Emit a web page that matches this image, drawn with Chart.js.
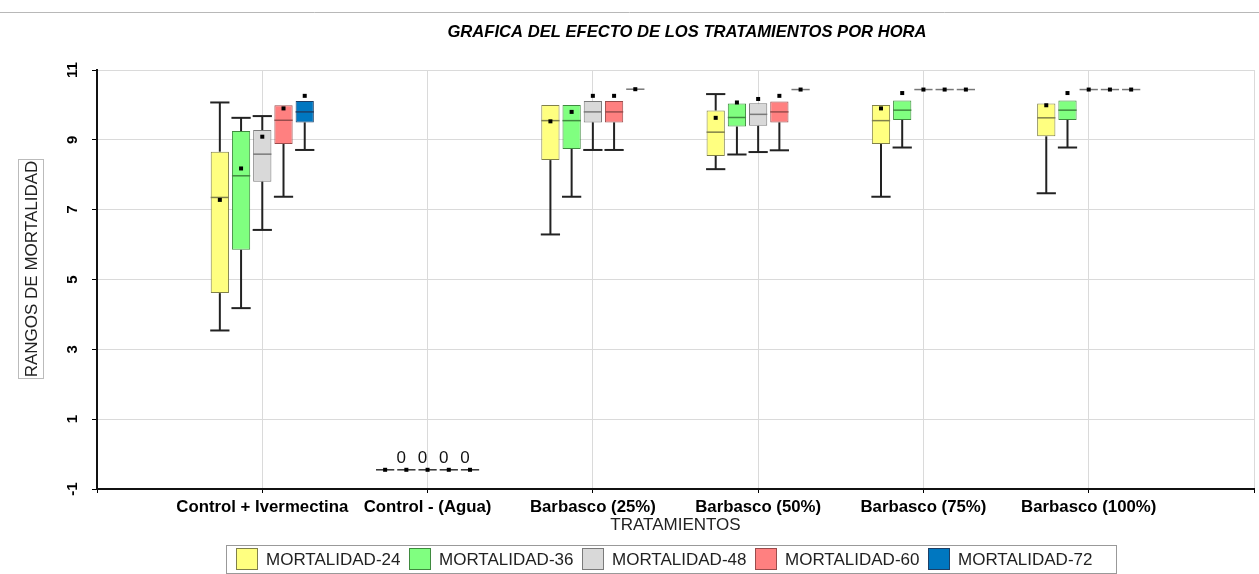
<!DOCTYPE html>
<html>
<head>
<meta charset="utf-8">
<script src="https://cdn.jsdelivr.net/npm/chart.js@4.4.0/dist/chart.umd.min.js"></script>
<style>
  html, body { margin: 0; padding: 0; background: #fff; }
</style>
</head>
<body>
<canvas id="boxChart" width="1259" height="574"></canvas>
<script>
const categories = ['Control + Ivermectina', 'Control - (Agua)', 'Barbasco (25%)', 'Barbasco (50%)', 'Barbasco (75%)', 'Barbasco (100%)'];
const seriesNames = ['MORTALIDAD-24', 'MORTALIDAD-36', 'MORTALIDAD-48', 'MORTALIDAD-60', 'MORTALIDAD-72'];
const seriesColors = ['#ffff80', '#80ff80', '#d9d9d9', '#ff8080', '#0077c0'];
const seriesBorders = ['#80804a', '#3f8a3f', '#7a7a7a', '#9a4c4c', '#1d3f66'];
const yTicks = [-1, 1, 3, 5, 7, 9, 11];

// [min, q1, median, q3, max] per treatment
const mort24 = [[3.54, 4.61, 7.35, 8.66, 10.07], [-0.45, -0.45, -0.45, -0.45, -0.45], [6.29, 8.42, 9.55, 10.0, 10.0], [8.16, 8.54, 9.22, 9.84, 10.31], [7.37, 8.88, 9.55, 10.0, 10.0], [7.47, 9.10, 9.63, 10.04, 10.04]];
const mort36 = [[4.18, 5.85, 7.97, 9.25, 9.63], [-0.45, -0.45, -0.45, -0.45, -0.45], [7.37, 8.74, 9.55, 10.0, 10.0], [8.58, 9.38, 9.64, 10.04, 10.04], [8.78, 9.57, 9.85, 10.13, 10.13], [8.78, 9.57, 9.85, 10.13, 10.13]];
const mort48 = [[6.42, 7.80, 8.59, 9.28, 9.68], [-0.45, -0.45, -0.45, -0.45, -0.45], [8.71, 9.50, 9.80, 10.11, 10.11], [8.65, 9.40, 9.73, 10.05, 10.05], [10.44, 10.44, 10.44, 10.44, 10.44], [10.44, 10.44, 10.44, 10.44, 10.44]];
const mort60 = [[7.37, 8.88, 9.56, 9.99, 9.99], [-0.45, -0.45, -0.45, -0.45, -0.45], [8.71, 9.50, 9.80, 10.11, 10.11], [8.70, 9.50, 9.80, 10.10, 10.10], [10.44, 10.44, 10.44, 10.44, 10.44], [10.44, 10.44, 10.44, 10.44, 10.44]];
const mort72 = [[8.71, 9.50, 9.80, 10.11, 10.11], [-0.45, -0.45, -0.45, -0.45, -0.45], [10.45, 10.45, 10.45, 10.45, 10.45], [10.44, 10.44, 10.44, 10.44, 10.44], [10.44, 10.44, 10.44, 10.44, 10.44], [10.44, 10.44, 10.44, 10.44, 10.44]];

const mean24 = [7.28, -0.45, 9.53, 9.63, 9.90, 9.99];
const mean36 = [8.18, -0.45, 9.80, 10.07, 10.34, 10.34];
const mean48 = [9.09, -0.45, 10.26, 10.17, 10.44, 10.44];
const mean60 = [9.90, -0.45, 10.26, 10.26, 10.44, 10.44];
const mean72 = [10.26, -0.45, 10.45, 10.44, 10.44, 10.44];

// labels printed over the water control
const aguaLabels = ['', '0', '0', '0', '0'];

const allStats = [mort24, mort36, mort48, mort60, mort72];
const allMeans = [mean24, mean36, mean48, mean60, mean72];
const FONT = '"Liberation Sans", Arial, sans-serif';

// empty slot on each side so the groups sit like the original
const pad = arr => [null, ...arr, null];

const datasets = seriesNames.map((name, i) => ({
    label: name,
    data: pad(allStats[i].map(s => [s[1], s[3]])),
    backgroundColor: seriesColors[i],
    borderColor: seriesBorders[i],
    borderWidth: 1,
    borderSkipped: false,
    categoryPercentage: 0.642,
    barPercentage: 0.86
}));

function seg(c, x1, y1, x2, y2) {
    c.beginPath();
    c.moveTo(x1, y1);
    c.lineTo(x2, y2);
    c.stroke();
}

// whiskers, medians, means
const boxExtras = {
    id: 'boxExtras',
    afterDatasetsDraw(chart) {
        const c = chart.ctx;
        const y = chart.scales.y;
        chart.data.datasets.forEach((ds, i) => {
            const meta = chart.getDatasetMeta(i);
            meta.data.forEach((bar, j) => {
                const s = allStats[i][j - 1];
                if (!s) return;
                const x = bar.x, half = bar.width / 2;
                const [mn, q1, md, q3, mx] = s.map(v => y.getPixelForValue(v));
                c.save();
                if (s[1] === s[3]) {
                    c.strokeStyle = j - 1 === 1 ? '#333' : '#777';
                    c.lineWidth = 1.5;
                    seg(c, x - half, md, x + half, md);
                } else {
                    c.strokeStyle = '#222';
                    c.lineWidth = 2;
                    if (mx < q3 - 0.5) { seg(c, x, q3, x, mx); seg(c, x - half - 0.5, mx, x + half + 0.5, mx); }
                    if (mn > q1 + 0.5) { seg(c, x, q1, x, mn); seg(c, x - half - 0.5, mn, x + half + 0.5, mn); }
                    c.strokeStyle = seriesBorders[i];
                    c.lineWidth = 1.5;
                    seg(c, x - half, md, x + half, md);
                }
                const my = y.getPixelForValue(allMeans[i][j - 1]);
                c.fillStyle = '#000';
                c.fillRect(x - 2, my - 2, 4, 4);
                if (j - 1 === 1 && aguaLabels[i]) {
                    c.font = '17px ' + FONT;
                    c.fillStyle = '#111';
                    c.textAlign = 'center';
                    c.textBaseline = 'bottom';
                    c.fillText(aguaLabels[i], x - 5, md - 3);
                }
                c.restore();
            });
        });
    }
};

// title, rotated y labels, y title box, legend
const chrome = {
    id: 'chrome',
    afterDraw(chart) {
        const c = chart.ctx;
        const y = chart.scales.y;
        c.save();
        c.strokeStyle = '#b8b8b8';
        c.lineWidth = 1;
        seg(c, 0, 12.5, chart.width, 12.5);

        c.fillStyle = '#000';
        c.font = 'italic bold 16.6px ' + FONT;
        c.textAlign = 'center';
        c.textBaseline = 'middle';
        c.fillText('GRAFICA DEL EFECTO DE LOS TRATAMIENTOS POR HORA', 687, 32);

        c.font = 'bold 15px ' + FONT;
        y.ticks.forEach(t => {
            const py = y.getPixelForValue(t.value);
            c.save();
            c.translate(73, py);
            c.rotate(-Math.PI / 2);
            c.fillText(String(t.value), 0, 0);
            c.restore();
        });

        c.save();
        c.translate(31, 269);
        c.rotate(-Math.PI / 2);
        c.font = '17px ' + FONT;
        c.fillStyle = '#222';
        c.fillText('RANGOS DE MORTALIDAD', 0, 1);
        c.setLineDash([1, 1]);
        c.strokeStyle = '#777';
        c.strokeRect(-109.5, -12.5, 219, 25);
        c.restore();

        // legend
        c.setLineDash([]);
        c.strokeStyle = '#999';
        c.strokeRect(226.5, 545.5, 890, 28);
        c.font = '17px ' + FONT;
        c.textAlign = 'left';
        seriesNames.forEach((name, i) => {
            const bx = 236 + i * 173;
            c.fillStyle = seriesColors[i];
            c.fillRect(bx, 548, 22, 22);
            c.strokeStyle = seriesBorders[i];
            c.strokeRect(bx + 0.5, 548.5, 21, 21);
            c.fillStyle = '#222';
            c.fillText(name, bx + 30, 560);
        });
        c.restore();
    }
};

const ctx = document.getElementById('boxChart').getContext('2d');
new Chart(ctx, {
    type: 'bar',
    data: { labels: pad(categories).map(l => l || ''), datasets: datasets },
    options: {
        responsive: false,
        animation: false,
        events: [],
        layout: { padding: { top: 70, right: 5, bottom: 38, left: 0 } },
        plugins: { legend: { display: false }, tooltip: { enabled: false } },
        scales: {
            x: {
                type: 'category',
                offset: false,
                grid: { offset: false, color: '#dadada', tickColor: '#000', tickLength: 4 },
                border: { color: '#111', width: 2 },
                ticks: { color: '#000', autoSkip: false, maxRotation: 0, minRotation: 0, padding: 4,
                         font: { family: FONT, size: 16.8, weight: 'bold' } },
                title: { display: true, text: 'TRATAMIENTOS', color: '#222', padding: 0,
                         font: { family: FONT, size: 17 } },
                afterFit: s => { s.height = 47; }
            },
            y: {
                min: -1,
                max: 11,
                afterBuildTicks: s => { s.ticks = yTicks.map(v => ({ value: v })); },
                grid: { color: '#dadada', tickColor: '#000', tickLength: 5 },
                border: { color: '#111', width: 2 },
                ticks: { display: false },
                afterFit: s => { s.width = 97; }
            }
        }
    },
    plugins: [boxExtras, chrome]
});
</script>
</body>
</html>
